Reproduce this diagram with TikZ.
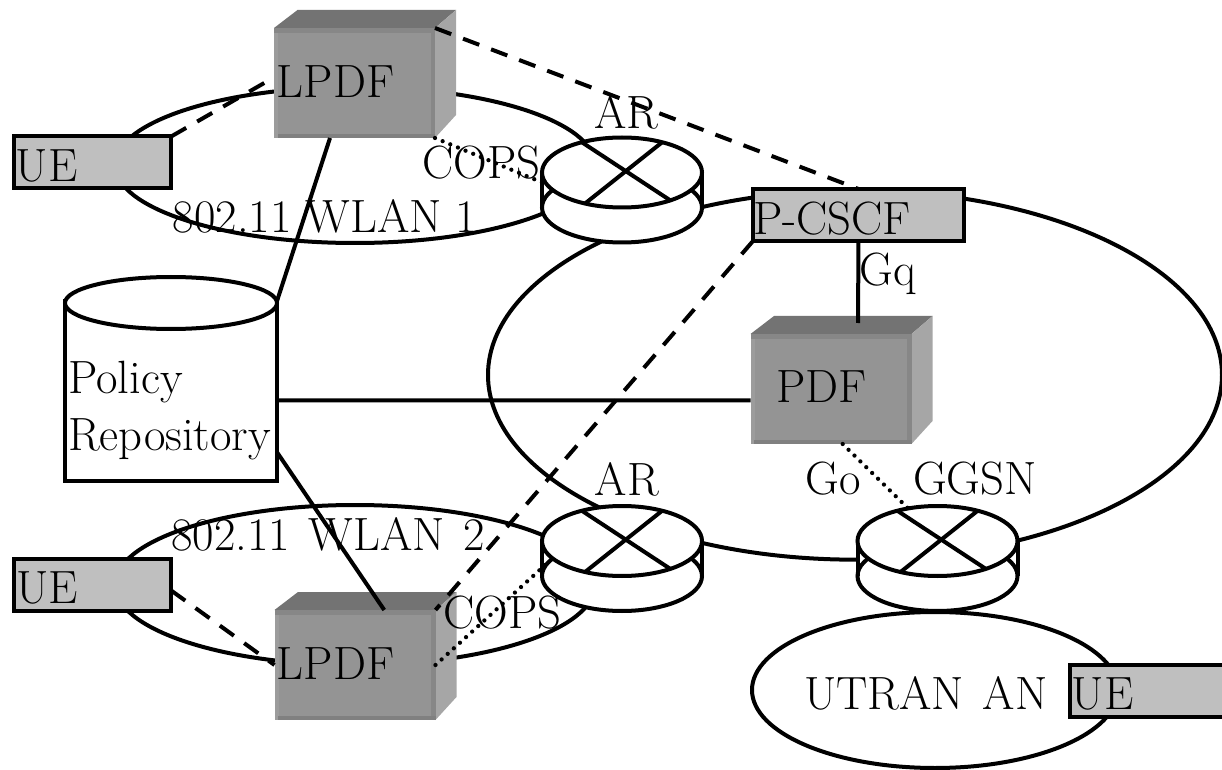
\documentclass[tikz,border=0pt]{standalone}
\usepackage{fontspec}
\setmainfont{Latin Modern Roman}
\usetikzlibrary{shapes.geometric}
\definecolor{frontgray}{gray}{0.58}
\definecolor{topgray}{gray}{0.45}
\definecolor{sidegray}{gray}{0.65}
\definecolor{topband}{gray}{0.53}
\definecolor{leftband}{gray}{0.61}
\definecolor{lowband}{gray}{0.5}
\definecolor{rightband}{gray}{0.53}
\definecolor{boxgray}{gray}{0.75}
\newcommand{\widesp}{\spaceskip=.4em\relax}
\tikzset{
  px/.style={x=0.75pt,y=-0.75pt},
  line/.style={line width=3pt,black},
  dash line/.style={line width=3pt,black,dash pattern=on 13pt off 9.5pt},
  dot line/.style={line width=3.2pt,black,line cap=round,dash pattern=on 0pt off 6.2pt},
  ring/.style={ellipse,draw=black,line width=3pt,inner sep=0pt,outer sep=0pt},
  front/.style={fill=frontgray,draw=none,minimum width=120.75pt,minimum height=82.5pt,inner sep=0pt,outer sep=0pt},
  greybox/.style={fill=boxgray,draw=black,line width=3pt,inner sep=0pt,outer sep=0pt,minimum height=39pt},
  tag/.style={font=\fontsize{35}{38}\selectfont,inner sep=0pt,anchor=center}
}
\newcommand{\solidbox}[3]{%
  \fill[topgray] (#2-80.5,#3-55) -- (#2-57,#3-73) -- (#2+101.5,#3-73) -- (#2+80.5,#3-55) -- cycle;
  \fill[sidegray] (#2+80.5,#3-55) -- (#2+101.5,#3-73) -- (#2+101.5,#3+32) -- (#2+80.5,#3+55) -- cycle;
  \node[front] (#1) at (#2,#3) {};
  \fill[leftband] (#2-80.5,#3-55) rectangle (#2-76.5,#3+55);
  \fill[rightband] (#2+76,#3-55) rectangle (#2+80.5,#3+55);
  \fill[topband] (#2-80.5,#3-55) rectangle (#2+80.5,#3-50);
  \fill[lowband] (#2-77,#3+51) rectangle (#2+80.5,#3+55);
}
\newcommand{\router}[3]{%
  \fill[white] (#2-80,#3) rectangle (#2+80,#3+35);
  \draw[line,fill=white] (#2,#3+35) ellipse[x radius=80,y radius=35];
  \draw[line] (#2-80,#3) -- (#2-80,#3+35) (#2+80,#3) -- (#2+80,#3+35);
  \node[ring,fill=white,minimum width=120pt,minimum height=52.5pt] (#1) at (#2,#3) {};
  \draw[line] (#1.143) -- (#1.-30);
  \draw[line] (#1.37) -- (#1.-140);
}
\begin{document}
\begin{tikzpicture}[px]
\useasboundingbox (0,0) rectangle (1222,770);
% large ellipses
\node[ring,minimum width=360pt,minimum height=117pt] (wlana) at (355,165) {};
\node[ring,minimum width=360pt,minimum height=120pt] (wlanb) at (355,585) {};
\node[ring,minimum width=550.5pt,minimum height=277pt] (core) at (855,375) {};
\node[ring,fill=white,minimum width=274.5pt,minimum height=117pt] (utran) at (935,690) {};
% routers
\router{ara}{622}{172.5}
\router{arb}{622}{541}
\router{ggsn}{937.5}{541}
% solid boxes
\solidbox{lpdfa}{354.5}{83}
\solidbox{lpdfb}{355}{665}
\solidbox{pdf}{831}{389}
% grey boxes
\node[greybox,minimum width=118pt] (uea) at (92.5,162.5) {};
\node[greybox,minimum width=118pt] (ueb) at (92.5,585) {};
\node[greybox,minimum width=117pt] (uec) at (1148,691) {};
\node[greybox,minimum width=158.25pt] (pcscf) at (858.5,215) {};
% policy repository
\node[draw=black,line width=3pt,fill=white,minimum width=159pt,minimum height=135pt,inner sep=0pt,outer sep=0pt] (policy) at (171,391) {};
\node[ring,fill=white,minimum width=159pt,minimum height=39pt] (policytop) at (171,303) {};
% connector ends on the top face of the PDF box
\coordinate (pdftop) at (858,323);
% connectors
\draw[line] (lpdfa.-114) -- (policy.north east);
\draw[line] (policy.-5) -- (pdf.188);
\draw[line] (policy.-30) -- (lpdfb.62.6);
\draw[line] (pcscf.south) -- (pdftop);
\draw[dash line] (lpdfa.north east) -- (pcscf.north);
\draw[dash line] (pcscf.south west) -- (lpdfb.north east);
\draw[dash line] (uea.north east) -- (lpdfa.176);
\draw[dash line] (ueb.-4) -- (lpdfb.west);
\draw[dot line] (lpdfa.south east) -- (ara.-171);
\draw[dot line] (lpdfb.east) -- (arb.-166);
\draw[dot line] (pdf.-78.5) -- (ggsn.132);
% labels
\node[tag] (t1) at (335.5,82) {LPDF};
\node[tag] (t2) at (335.5,663.5) {LPDF};
\node[tag] (t3) at (821.5,386.5) {PDF};
\node[tag] (t4) at (481.5,163) {COPS};
\node[tag] (t5) at (502.5,612.5) {COPS};
\node[tag] (t6) at (626.5,112) {AR};
\node[tag] (t7) at (627,479.5) {AR};
\node[tag] (t8) at (325,216) {802.11 WLAN 1};
\node[tag] (t9) at (328,534) {\widesp 802.11 WLAN 2};
\node[tag] (t10) at (46.5,166) {UE};
\node[tag] (t11) at (47,588) {UE};
\node[tag] (t12) at (1102.5,694) {UE};
\node[tag] (t13) at (832,219) {P-CSCF};
\node[tag] (t14) at (888,274) {Gq};
\node[tag] (t15) at (833.5,479) {Go};
\node[tag] (t16) at (975,479) {GGSN};
\node[tag] (t17) at (926,693) {\widesp UTRAN AN};
\node[tag,anchor=base west] (t18) at (68,393) {Policy};
\node[tag,anchor=base west] (t19) at (68,450) {Repository};
\end{tikzpicture}
\end{document}
